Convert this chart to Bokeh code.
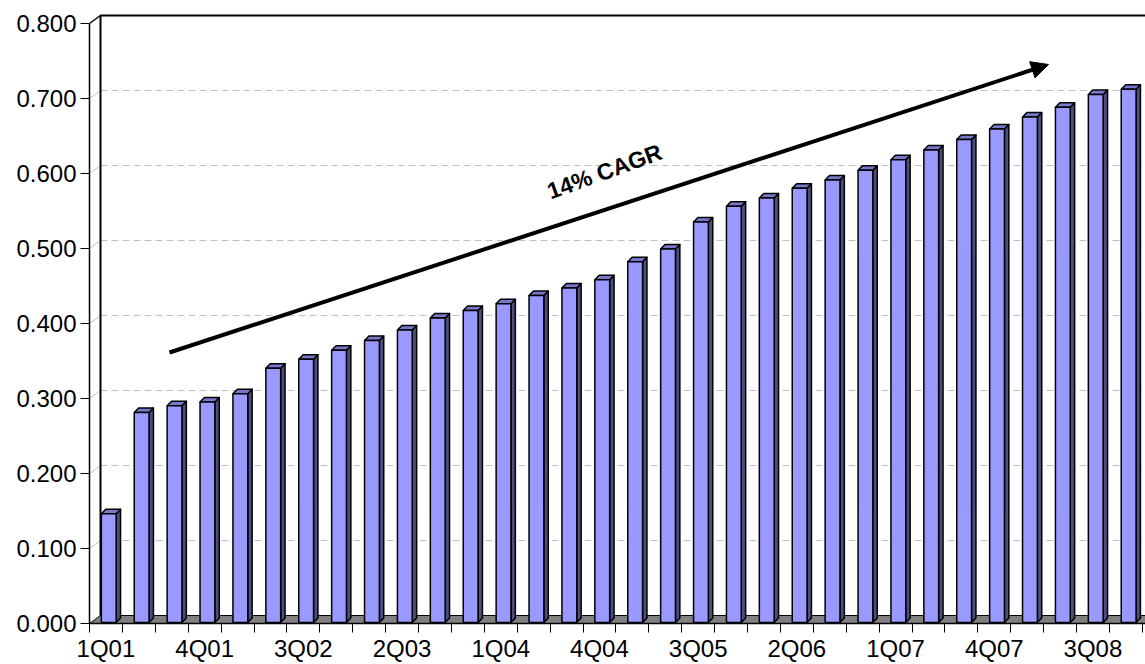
from bokeh.plotting import figure
from bokeh.models import Range1d, FixedTicker, NumeralTickFormatter, Arrow, NormalHead
from bokeh.core.properties import value
from bokeh.embed import file_html
from bokeh.resources import INLINE

# ---------------- data ----------------
quarters = ["1Q01", "2Q01", "3Q01", "4Q01", "1Q02", "2Q02", "3Q02", "4Q02",
            "1Q03", "2Q03", "3Q03", "4Q03", "1Q04", "2Q04", "3Q04", "4Q04",
            "1Q05", "2Q05", "3Q05", "4Q05", "1Q06", "2Q06", "3Q06", "4Q06",
            "1Q07", "2Q07", "3Q07", "4Q07", "1Q08", "2Q08", "3Q08", "4Q08"]
values = [0.145, 0.280, 0.289, 0.294, 0.305, 0.339, 0.351, 0.363,
          0.376, 0.390, 0.406, 0.416, 0.425, 0.436, 0.446, 0.457,
          0.481, 0.498, 0.534, 0.555, 0.566, 0.579, 0.590, 0.603,
          0.617, 0.630, 0.644, 0.658, 0.674, 0.687, 0.704, 0.711]
label_idx = [0, 3, 6, 9, 12, 15, 18, 21, 24, 27, 30]
y_ticks = [0.0, 0.1, 0.2, 0.3, 0.4, 0.5, 0.6, 0.7, 0.8]
annotation_text = "14% CAGR"

# ---------------- geometry (pixel sizes -> data units) ----------------
W, H = 1145, 664
LEFT, TOP, AXIS_Y = 89, 13, 623
PX_X = 32.9      # pixels per category
PX_Y = 750.0     # pixels per unit value
n = len(values)
x0 = -0.5
x_end = x0 + (W - LEFT) / PX_X
y_end = (AXIS_Y - TOP) / PX_Y

wall_dx = 11 / PX_X
wall_dy = 8 / PX_Y
bar_l, bar_r = -0.14, 0.31
side_dx = 4.4 / PX_X
side_dy = 4.5 / PX_Y
base = 1 / PX_Y

p = figure(width=W, height=H, x_range=Range1d(x0, x_end), y_range=Range1d(0, y_end),
           output_backend="svg", toolbar_location=None,
           min_border_left=LEFT, min_border_right=0, min_border_top=TOP,
           min_border_bottom=H - AXIS_Y)
p.outline_line_color = None
p.xgrid.visible = False
p.ygrid.visible = False
p.background_fill_color = "white"
p.border_fill_color = "white"

FONT = "Liberation Sans"

# x axis
xa = p.xaxis[0]
xa.ticker = FixedTicker(ticks=label_idx, minor_ticks=[i - 0.5 for i in range(n + 1)])
xa.major_label_overrides = {i: quarters[i] for i in label_idx}
xa.major_tick_out = 0
xa.major_tick_in = 0
xa.minor_tick_out = 9
xa.minor_tick_in = 0
xa.minor_tick_line_color = "black"
xa.minor_tick_line_width = 1
xa.axis_line_color = "black"
xa.axis_line_width = 1.5
xa.major_label_standoff = 2
xa.major_label_text_font = FONT
xa.major_label_text_font_size = "24px"
xa.major_label_text_line_height = 0.9
xa.major_label_text_color = "black"

# y axis
ya = p.yaxis[0]
ya.ticker = FixedTicker(ticks=y_ticks, minor_ticks=[])
ya.formatter = NumeralTickFormatter(format="0.000")
ya.bounds = (0, y_ticks[-1])
ya.major_tick_out = 9
ya.major_tick_in = 0
ya.minor_tick_out = 0
ya.minor_tick_in = 0
ya.major_tick_line_color = "black"
ya.axis_line_color = "black"
ya.axis_line_width = 1.5
ya.major_label_standoff = 4
ya.major_label_text_font = FONT
ya.major_label_text_font_size = "24px"
ya.major_label_text_color = "black"

# floor
far = x_end + 2
p.patch([x0, far, far + wall_dx, x0 + wall_dx], [0, 0, wall_dy, wall_dy],
        fill_color="#808080", line_color="black", line_width=1)

# back wall gridlines
grid_vals = y_ticks[1:-1]
p.segment(x0=[x0 + wall_dx] * len(grid_vals), y0=[v + wall_dy for v in grid_vals],
          x1=[far] * len(grid_vals), y1=[v + wall_dy for v in grid_vals],
          line_color="#c0c0c0", line_width=1, line_dash="7 4")
# side wall gridline stubs
p.segment(x0=[x0] * len(grid_vals), y0=grid_vals,
          x1=[x0 + wall_dx] * len(grid_vals), y1=[v + wall_dy for v in grid_vals],
          line_color="#c0c0c0", line_width=1)

top_v = y_ticks[-1]
# back wall borders
p.line([x0 + wall_dx, x0 + wall_dx, far], [wall_dy, top_v + wall_dy, top_v + wall_dy],
       line_color="black", line_width=2)
p.line([x0, x0 + wall_dx], [top_v, top_v + wall_dy], line_color="black", line_width=1.5)

# bars
lefts = [i + bar_l for i in range(n)]
rights = [i + bar_r for i in range(n)]
tops = [v + base for v in values]
side_xs, side_ys, cap_xs, cap_ys = [], [], [], []
for l, r, t in zip(lefts, rights, tops):
    side_xs.append([r, r + side_dx, r + side_dx, r])
    side_ys.append([base, base + side_dy, t + side_dy, t])
    cap_xs.append([l, l + side_dx, r + side_dx, r])
    cap_ys.append([t, t + side_dy, t + side_dy, t])

p.patches(side_xs, side_ys, fill_color="#4d4d80", line_color="black", line_width=1.5, line_join="round")
p.patches(cap_xs, cap_ys, fill_color="#7777cc", line_color="black", line_width=1.5, line_join="round")
p.quad(left=lefts, right=rights, bottom=[base] * n, top=tops,
       fill_color="#9999ff", line_color="black", line_width=1.5)

# annotation text and arrow
p.text(x=[(604 - LEFT) / PX_X + x0], y=[(AXIS_Y - 171) / PX_Y], text=[annotation_text],
       angle=20, angle_units="deg", text_align="center", text_baseline="middle",
       text_font=value(FONT), text_font_style="bold", text_font_size="23px", text_color="black")

arrow = Arrow(end=NormalHead(size=17, fill_color="black", line_color="black"),
              x_start=(169 - LEFT) / PX_X + x0, y_start=(AXIS_Y - 352) / PX_Y,
              x_end=(1048 - LEFT) / PX_X + x0, y_end=(AXIS_Y - 64) / PX_Y,
              line_color="black", line_width=4)
p.add_layout(arrow)

open("out.html", "w").write(file_html(p, INLINE))
